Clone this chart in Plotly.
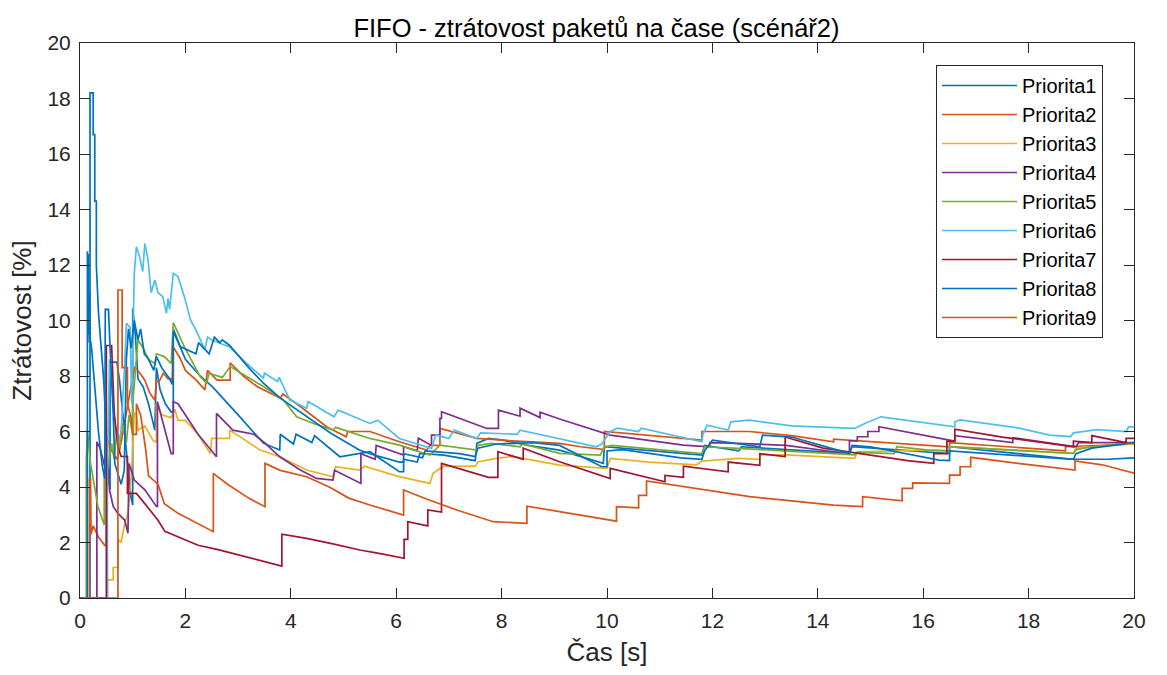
import plotly.graph_objects as go

names = ["Priorita1", "Priorita2", "Priorita3", "Priorita4", "Priorita5",
         "Priorita6", "Priorita7", "Priorita8", "Priorita9"]
colors = ["#0072BD", "#D95319", "#EDB120", "#7E2F8E", "#77AC30",
          "#4DBEEE", "#A2142F", "#0072BD", "#D95319"]

p1_t = [0, 0.19, 0.19, 0.25, 0.25, 0.28, 0.28, 0.31, 0.31, 0.35, 0.39, 0.42, 0.45, 0.48, 0.52, 0.55, 0.57, 0.57, 0.7, 0.75, 0.8, 0.86, 0.92, 0.97, 1.0, 1.0, 1.05, 1.1, 1.2, 1.3, 1.38, 1.42, 1.45, 1.52, 1.62, 1.73, 1.77, 1.77, 1.9, 2.0, 2.28, 2.52, 2.97, 3.48, 3.79, 3.8, 4.05, 4.1, 4.4, 4.45, 4.93, 5.5, 6.06, 6.14, 6.14, 6.4, 6.45, 6.9, 7.2, 7.5, 7.53, 7.75, 8.0, 8.5, 9.1, 9.93, 9.95, 11.4, 11.8, 11.85, 12.5, 12.55, 14.6, 14.65, 16.3, 16.5, 16.5, 18.85, 19.5, 20]
p1_v = [0, 0, 18.2, 18.2, 16.7, 16.7, 14.3, 14.3, 12.0, 10.3, 9.3, 8.6, 7.85, 6.65, 5.0, 4.4, 3.9, 8.5, 8.5, 7.85, 6.8, 5.7, 4.5, 3.6, 3.35, 10.44, 9.5, 7.9, 7.6, 7.0, 6.4, 6.05, 8.3, 7.5, 7.0, 6.7, 6.7, 9.7, 9.06, 8.6, 8.0, 7.6, 6.66, 5.58, 5.33, 5.9, 5.55, 5.9, 5.6, 5.85, 5.09, 5.27, 4.55, 4.55, 5.0, 4.9, 5.21, 5.15, 5.05, 4.95, 5.57, 5.75, 5.7, 5.5, 5.33, 4.85, 5.45, 5.2, 5.15, 5.5, 5.3, 5.45, 5.21, 5.45, 5.21, 5.2, 5.45, 5.0, 5.0, 5.05]

p2_t = [0, 0.18, 0.18, 0.2, 0.21, 0.25, 0.35, 0.47, 0.5, 0.5, 0.6, 0.7, 0.78, 0.85, 0.91, 1.0, 1.04, 1.1, 1.23, 1.32, 1.42, 1.45, 1.5, 1.58, 1.67, 1.77, 1.77, 1.9, 2.0, 2.2, 2.37, 2.42, 2.6, 2.85, 2.85, 3.1, 3.36, 3.8, 3.85, 4.18, 4.68, 5.05, 5.08, 5.5, 6.06, 6.58, 6.64, 6.83, 6.83, 7.53, 8.3, 9.1, 9.5, 9.95, 9.95, 10.8, 11.8, 11.8, 12.7, 13.5, 14.3, 14.3, 15.3, 16.3, 16.5, 16.5, 18.7, 18.7, 20]
p2_v = [0, 0, 4.3, 4.3, 2.3, 2.6, 2.2, 1.9, 1.9, 5.8, 5.3, 5.0, 5.6, 6.4, 7.0, 7.97, 8.3, 8.2, 7.85, 7.4, 7.13, 7.8, 7.8, 8.1, 7.9, 7.9, 9.05, 8.64, 8.2, 7.86, 7.5, 8.2, 7.85, 7.85, 8.47, 8.0, 7.62, 7.2, 7.35, 6.9, 6.17, 5.81, 6.0, 6.0, 5.63, 5.33, 5.5, 5.5, 6.11, 5.75, 5.65, 5.57, 5.45, 5.35, 6.0, 5.85, 5.69, 6.0, 6.0, 5.85, 5.63, 5.72, 5.6, 5.48, 5.45, 5.6, 5.3, 5.45, 5.55]

p3_t = [0, 0.52, 0.52, 0.63, 0.63, 0.72, 0.72, 0.78, 0.85, 0.91, 0.98, 1.03, 1.07, 1.1, 1.23, 1.38, 1.45, 1.45, 1.55, 1.73, 1.8, 1.86, 2.0, 2.24, 2.47, 2.5, 2.84, 2.84, 3.42, 3.79, 4.3, 4.8, 4.85, 5.31, 5.4, 6.0, 6.64, 6.7, 6.9, 7.5, 7.55, 7.9, 8.2, 8.6, 9.1, 10.0, 10.06, 10.8, 11.7, 11.8, 12.5, 12.9, 12.9, 13.4, 14.7, 14.75, 16.1, 16.5, 16.5, 18.85, 18.9, 20]
p3_v = [0, 0, 0.65, 0.65, 1.1, 1.1, 2.1, 2.0, 2.7, 3.05, 4.6, 6.65, 6.65, 6.05, 6.2, 5.7, 5.6, 7.0, 6.6, 6.5, 6.8, 6.4, 6.4, 5.9, 5.21, 5.75, 5.75, 6.05, 5.33, 5.09, 4.61, 4.37, 4.73, 4.61, 4.75, 4.4, 4.13, 4.49, 4.75, 4.75, 4.9, 5.03, 5.1, 4.95, 4.79, 4.67, 5.03, 4.9, 4.8, 4.93, 5.03, 5.0, 5.16, 5.16, 5.03, 5.27, 5.33, 5.3, 5.45, 5.21, 5.4, 5.55]

p4_t = [0, 0.32, 0.32, 0.38, 0.5, 0.52, 0.56, 0.63, 0.72, 0.85, 0.91, 0.93, 1.03, 1.23, 1.45, 1.47, 1.47, 1.55, 1.67, 1.73, 1.77, 1.77, 1.86, 2.0, 2.24, 2.59, 2.59, 2.9, 3.3, 3.5, 3.79, 4.18, 4.49, 4.8, 4.83, 5.33, 5.33, 5.6, 5.62, 6.14, 6.14, 6.4, 6.42, 6.67, 6.67, 6.83, 6.83, 6.86, 6.86, 7.72, 7.94, 7.94, 8.35, 8.35, 8.73, 8.73, 9.1, 10.06, 10.5, 11.45, 11.95, 11.95, 12.5, 13.4, 14.3, 14.6, 14.6, 14.75, 14.75, 14.95, 14.95, 15.16, 15.16, 16.3, 16.6, 16.6, 17.6, 17.7, 17.7, 18.9, 18.95, 20]
p4_v = [0, 0, 5.63, 5.4, 4.5, 4.85, 3.9, 3.3, 3.05, 2.8, 2.33, 4.85, 4.25, 3.9, 3.3, 3.3, 7.07, 6.5, 5.7, 5.2, 5.2, 7.07, 7.0, 6.6, 5.9, 5.09, 6.65, 6.05, 5.9, 5.6, 5.09, 4.61, 4.31, 4.25, 4.6, 4.13, 5.2, 5.0, 5.5, 5.15, 5.45, 5.3, 5.76, 5.5, 5.87, 5.87, 6.47, 6.47, 6.71, 6.11, 6.11, 6.77, 6.55, 6.84, 6.5, 6.7, 6.45, 5.87, 5.75, 5.51, 5.45, 5.6, 5.57, 5.5, 5.27, 5.25, 5.66, 5.66, 5.81, 5.81, 6.0, 6.0, 6.17, 5.75, 5.65, 5.85, 5.6, 5.6, 5.78, 5.45, 5.6, 5.6]

p5_t = [0, 0.12, 0.12, 0.14, 0.2, 0.28, 0.34, 0.46, 0.46, 0.55, 0.6, 0.65, 0.7, 0.75, 0.8, 0.88, 0.93, 1.0, 1.0, 1.1, 1.2, 1.3, 1.42, 1.45, 1.6, 1.73, 1.77, 1.98, 2.1, 2.28, 2.4, 2.45, 2.7, 2.85, 3.48, 3.86, 4.11, 4.43, 4.8, 4.85, 5.5, 6.06, 6.3, 6.64, 6.83, 7.53, 7.55, 7.8, 8.35, 8.4, 9.1, 9.87, 9.95, 10.1, 11.8, 11.85, 12.5, 14.7, 14.75, 15.45, 15.5, 16.1, 16.5, 16.5, 18.85, 18.9, 19.2, 20]
p5_v = [0, 0, 5.0, 6.05, 4.85, 3.9, 3.3, 2.63, 4.5, 5.0, 5.57, 5.0, 6.1, 5.3, 6.3, 5.6, 6.6, 5.9, 7.0, 9.3, 9.0, 8.6, 8.45, 8.8, 8.7, 8.45, 9.92, 9.05, 8.6, 7.98, 7.74, 8.1, 7.95, 8.34, 7.62, 7.14, 6.53, 6.29, 6.05, 6.15, 5.75, 5.51, 5.35, 5.15, 5.51, 5.33, 5.5, 5.57, 5.45, 5.55, 5.21, 5.15, 5.45, 5.5, 5.2, 5.45, 5.39, 5.16, 5.25, 5.2, 5.45, 5.33, 5.3, 5.45, 5.21, 5.35, 5.45, 5.6]

p6_t = [0, 0.52, 0.52, 0.56, 0.6, 0.65, 0.72, 0.78, 0.85, 0.88, 0.95, 0.98, 1.03, 1.07, 1.13, 1.19, 1.23, 1.29, 1.35, 1.42, 1.48, 1.57, 1.64, 1.67, 1.7, 1.77, 1.86, 1.98, 2.1, 2.2, 2.37, 2.42, 2.5, 2.84, 3.16, 3.48, 3.5, 3.75, 3.78, 3.98, 4.3, 4.33, 4.82, 4.9, 5.5, 5.65, 6.06, 6.4, 6.67, 6.75, 7.0, 7.1, 7.53, 7.6, 8.3, 8.35, 8.95, 9.8, 9.9, 10.06, 10.2, 10.6, 10.65, 11.8, 11.82, 11.9, 12.3, 12.35, 12.7, 13.5, 14.7, 14.9, 15.2, 16.2, 16.6, 16.6, 16.7, 17.8, 18.4, 18.8, 18.85, 19.3, 19.85, 19.9, 20]
p6_v = [0, 0, 4.5, 8.6, 7.9, 6.5, 5.5, 6.0, 8.5, 9.9, 9.75, 7.0, 11.7, 12.66, 12.3, 11.76, 12.78, 12.2, 11.0, 11.46, 11.0, 10.86, 10.26, 10.8, 10.4, 11.7, 11.58, 10.86, 10.0, 9.66, 8.94, 9.4, 9.3, 9.05, 8.46, 7.92, 8.1, 7.8, 7.95, 7.14, 6.84, 7.08, 6.53, 6.77, 6.29, 6.41, 5.75, 5.55, 5.39, 5.87, 5.75, 6.05, 5.75, 5.95, 5.9, 6.05, 5.81, 5.45, 5.55, 6.0, 6.12, 6.0, 6.12, 5.63, 5.9, 6.23, 6.05, 6.35, 6.41, 6.2, 6.11, 6.3, 6.53, 6.29, 6.17, 6.35, 6.42, 6.13, 5.87, 5.82, 5.95, 6.07, 6.0, 6.17, 6.17]

p7_t = [0, 0.5, 0.5, 0.6, 0.65, 0.72, 0.78, 0.9, 0.9, 1.07, 1.23, 1.48, 1.61, 1.86, 2.24, 2.6, 3.0, 3.4, 3.83, 3.83, 4.3, 4.8, 5.31, 5.7, 6.15, 6.15, 6.22, 6.22, 6.6, 6.6, 6.86, 6.86, 7.55, 7.75, 7.93, 7.93, 8.41, 8.41, 9.1, 9.74, 10.06, 10.06, 11.1, 11.1, 11.45, 11.45, 12.3, 12.3, 12.9, 12.9, 13.38, 13.38, 14.1, 15.0, 15.7, 16.2, 16.2, 16.45, 16.45, 16.6, 16.6, 17.5, 18.85, 18.85, 19.2, 19.2, 19.85, 19.85, 20]
p7_v = [0, 0, 9.1, 9.1, 6.65, 5.45, 5.1, 5.1, 3.77, 3.77, 3.4, 2.8, 2.4, 2.2, 1.9, 1.75, 1.55, 1.35, 1.15, 2.3, 2.15, 1.95, 1.73, 1.6, 1.43, 2.11, 2.11, 2.75, 2.6, 3.17, 3.1, 4.85, 4.45, 4.35, 4.35, 5.27, 5.0, 5.4, 4.91, 4.5, 4.3, 4.67, 4.19, 4.42, 4.35, 4.75, 4.55, 4.9, 4.78, 5.2, 5.1, 5.8, 5.4, 5.15, 4.95, 4.85, 5.2, 5.2, 5.65, 5.65, 6.08, 5.8, 5.45, 5.65, 5.6, 5.85, 5.6, 5.75, 5.75]

p8_t = [0, 0.14, 0.14, 0.15, 0.16, 0.17, 0.18, 0.19, 0.22, 0.28, 0.35, 0.42, 0.47, 0.48, 0.54, 0.57, 0.6, 0.63, 0.66, 0.72, 0.78, 0.84, 0.88, 0.92, 0.97, 1.0, 1.03, 1.1, 1.15, 1.22, 1.3, 1.4, 1.45, 1.55, 1.7, 1.75, 1.77, 1.9, 2.2, 2.25, 2.45, 2.55, 2.65, 2.7, 2.84, 3.2, 3.48, 3.8, 4.12, 4.76, 5.3, 5.5, 6.06, 6.14, 6.14, 6.5, 6.55, 7.2, 7.5, 7.55, 7.9, 8.6, 9.1, 9.9, 10.0, 10.0, 10.3, 11.4, 11.8, 11.85, 12.0, 12.7, 12.9, 12.95, 13.5, 14.6, 14.65, 15.0, 16.3, 16.5, 16.5, 18.85, 18.9, 19.2, 20]
p8_v = [0, 0, 12.5, 9.2, 12.4, 9.5, 11.0, 9.4, 9.0, 7.5, 6.0, 4.8, 4.3, 10.4, 10.4, 9.05, 7.85, 6.65, 4.85, 4.5, 4.1, 4.6, 8.6, 9.7, 9.0, 9.5, 10.0, 9.3, 9.7, 8.8, 8.6, 8.2, 8.7, 8.3, 7.9, 7.7, 9.6, 9.06, 8.8, 9.2, 8.8, 9.4, 9.2, 9.3, 9.1, 8.3, 7.74, 7.2, 6.77, 5.94, 5.33, 5.2, 4.9, 4.9, 5.2, 5.05, 5.3, 5.2, 5.1, 5.4, 5.55, 5.6, 5.5, 4.73, 4.73, 5.3, 5.35, 5.05, 5.0, 5.3, 5.69, 5.5, 5.45, 5.87, 5.8, 5.21, 5.5, 5.45, 4.97, 4.95, 5.3, 5.0, 5.2, 5.4, 5.6]

p9_t = [0, 0.72, 0.72, 0.8, 0.8, 0.9, 0.9, 0.97, 1.0, 1.07, 1.07, 1.15, 1.25, 1.3, 1.48, 1.6, 1.86, 2.2, 2.53, 2.53, 2.8, 3.2, 3.51, 3.51, 3.8, 4.3, 4.73, 5.1, 5.5, 6.14, 6.14, 6.6, 7.15, 7.84, 8.48, 8.48, 8.92, 9.5, 10.18, 10.18, 10.6, 10.6, 10.75, 10.75, 11.5, 12.71, 13.5, 14.3, 14.85, 14.85, 15.6, 15.6, 15.8, 15.8, 16.5, 16.5, 16.7, 16.7, 16.9, 16.9, 17.8, 18.88, 18.88, 19.4, 20]
p9_v = [0, 0, 11.1, 11.1, 8.3, 8.3, 7.0, 6.5, 5.9, 5.9, 7.0, 6.6, 5.3, 4.4, 4.1, 3.4, 3.05, 2.7, 2.39, 4.49, 4.1, 3.6, 3.29, 4.85, 4.6, 4.37, 4.0, 3.6, 3.35, 2.99, 3.89, 3.55, 3.17, 2.75, 2.69, 3.31, 3.17, 3.0, 2.77, 3.29, 3.25, 3.7, 3.7, 4.22, 4.0, 3.65, 3.5, 3.35, 3.29, 3.65, 3.5, 3.95, 3.95, 4.15, 4.13, 4.43, 4.43, 4.73, 4.73, 5.07, 4.85, 4.61, 4.94, 4.8, 4.5]

series_t = [p1_t, p2_t, p3_t, p4_t, p5_t, p6_t, p7_t, p8_t, p9_t]
series_v = [p1_v, p2_v, p3_v, p4_v, p5_v, p6_v, p7_v, p8_v, p9_v]

x_ticks = list(range(0, 21, 2))
y_ticks = list(range(0, 21, 2))

FONT = "Liberation Sans, Arial, Helvetica, sans-serif"
AX = "#262626"

fig = go.Figure()
for name, col, t, v in zip(names, colors, series_t, series_v):
    fig.add_trace(go.Scatter(x=t, y=v, mode="lines", name=name,
                             line=dict(color=col, width=1.7)))

axis_common = dict(
    showgrid=False, zeroline=False, showline=True, linecolor=AX, linewidth=1,
    mirror="ticks", ticks="inside", ticklen=10, tickcolor=AX, tickwidth=1,
    tickfont=dict(family=FONT, size=21, color=AX), ticklabelstandoff=4,
)

fig.update_layout(
    width=1167, height=675,
    margin=dict(l=80, r=33, t=43, b=77),
    paper_bgcolor="white", plot_bgcolor="white",
    title=dict(text="FIFO - ztrátovost paketů na čase (scénář2)",
               x=0.49, xref="paper", xanchor="center",
               y=1 - 28 / 675, yref="container", yanchor="middle",
               font=dict(family=FONT, size=25.5, color="black")),
    xaxis=dict(range=[0, 20], tickvals=x_ticks,
               title=dict(text="Čas [s]", font=dict(family=FONT, size=26, color=AX), standoff=11),
               **axis_common),
    yaxis=dict(range=[0, 20], tickvals=y_ticks,
               title=dict(text="Ztrátovost [%]", font=dict(family=FONT, size=26, color=AX), standoff=8),
               **axis_common),
    legend=dict(x=(936 - 80) / 1054, y=(598 - 65) / 555, xanchor="left", yanchor="top",
                bgcolor="white", bordercolor=AX, borderwidth=1,
                font=dict(family=FONT, size=20, color="black"),
                itemwidth=75, tracegroupgap=0),
    showlegend=True,
)

fig.write_html("out.html")
